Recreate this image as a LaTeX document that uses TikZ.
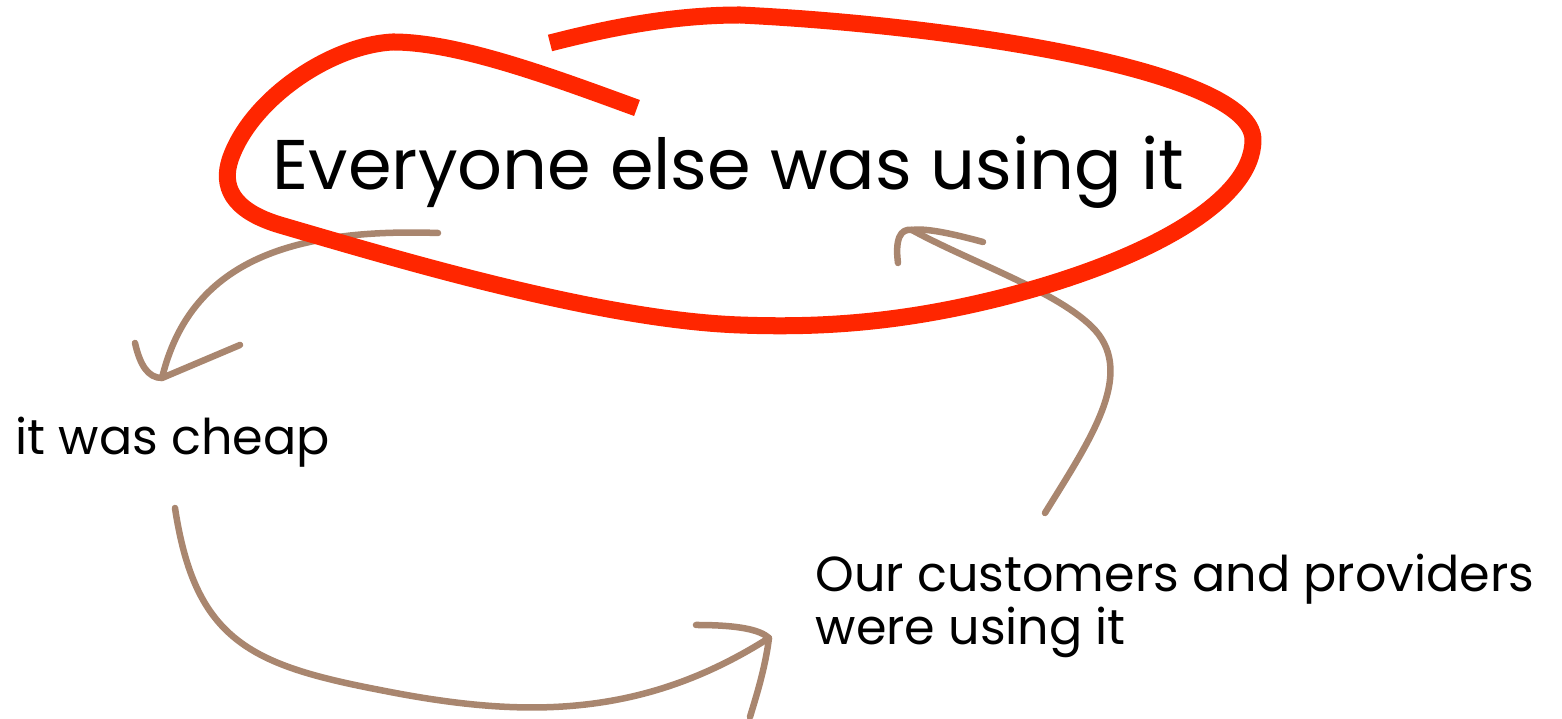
\documentclass[tikz,border=0pt]{standalone}
\usepackage{fontspec}
\setmainfont{Poppins}
\usetikzlibrary{positioning}
\definecolor{loopred}{HTML}{FF2600}
\definecolor{arrowbrown}{HTML}{A9866F}

\begin{document}
\begin{tikzpicture}[x=0.01cm,y=-0.01cm,
  big/.style={font=\fontsize{20}{20}\selectfont,inner sep=0pt,anchor=base west},
  lab/.style={font=\fontsize{14}{14}\selectfont,inner sep=0pt,anchor=base west},
  loop/.style={draw=loopred,line width=0.17cm,line cap=butt,line join=round},
  sketch/.style={draw=arrowbrown,line width=0.065cm,line cap=round,line join=round}]
\useasboundingbox (0,0) rectangle (1562,719);
\coordinate (a1) at (438,233); \coordinate (t1) at (162,378);
\coordinate (a2) at (175,508); \coordinate (t2) at (769,638);
\coordinate (a3) at (1045,513); \coordinate (t3) at (912,230);
\draw[sketch] (a1) .. controls (290,228) and (190,262) .. (t1);
\draw[sketch] (135,343) .. controls (140,365) and (148,378) .. (t1) -- (240,345);
\draw[sketch] (a2) .. controls (195,640) and (250,665) .. (380,690) .. controls (520,718) and (640,720) .. (t2);
\draw[sketch] (696,625) .. controls (740,625) and (760,630) .. (t2) .. controls (765,670) and (755,700) .. (750,717);
\draw[sketch] (a3) .. controls (1090,440) and (1135,375) .. (1095,330) .. controls (1060,292) and (970,262) .. (t3);
\draw[sketch] (983,242) .. controls (950,233) and (925,228) .. (t3);
\draw[sketch] (898,263) .. controls (895,240) and (900,228) .. (t3);
\draw[loop] (550,43) .. controls (620,25) and (680,15) .. (740,15)
  .. controls (950,25) and (1253,70) .. (1253,140)
  .. controls (1253,200) and (1150,260) .. (1000,298)
  .. controls (900,323) and (820,328) .. (740,325)
  .. controls (600,320) and (400,260) .. (280,225)
  .. controls (230,210) and (222,185) .. (230,160)
  .. controls (250,100) and (330,45) .. (393,42)
  .. controls (460,42) and (560,80) .. (637,108);
\node[big] (title) at (272,190) {Everyone else was using it};
\node[lab] (cheap) at (15,455) {it was cheap};
\node[lab] (users) at (815,592) {Our customers and providers};
\node[lab] (using) at (815,645) {were using it};
\end{tikzpicture}
\end{document}
